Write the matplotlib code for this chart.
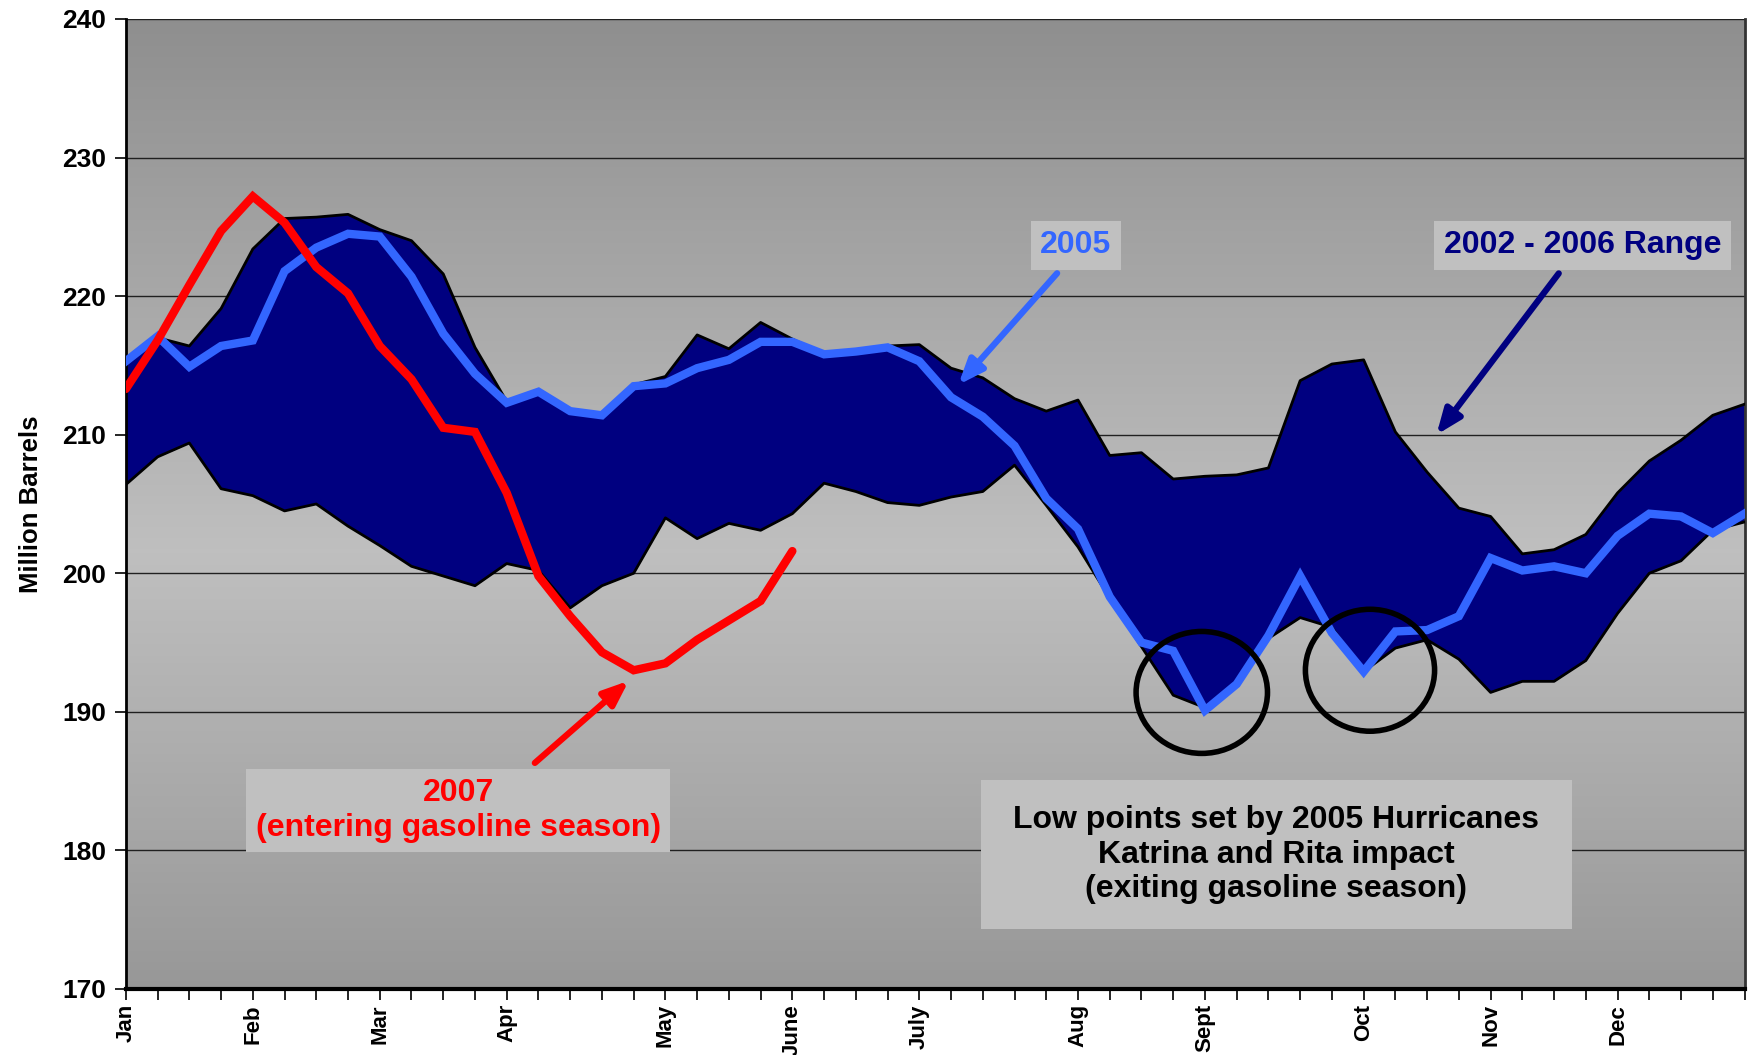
import matplotlib
matplotlib.use('Agg')
import matplotlib.pyplot as plt
import numpy as np
from matplotlib.patches import Ellipse, Rectangle

plt.rcParams['font.family'] = ['Liberation Sans', 'DejaVu Sans']
plt.rcParams['font.weight'] = 'bold'

# weekly gasoline stocks, million barrels (week 0 = start of Jan)
weeks = np.arange(52)
range_high = [215.3, 217.0, 216.4, 219.1, 223.4, 225.6, 225.7, 225.9, 224.8, 224.0,
              221.6, 216.3, 212.4, 213.1, 211.7, 211.4, 213.6, 214.2, 217.2, 216.2,
              218.1, 216.9, 215.8, 216.1, 216.4, 216.5, 214.8, 214.1, 212.6, 211.7,
              212.5, 208.5, 208.7, 206.8, 207.0, 207.1, 207.6, 213.9, 215.1, 215.4,
              210.2, 207.3, 204.7, 204.1, 201.4, 201.7, 202.8, 205.8, 208.1, 209.6,
              211.4, 212.2]
range_low = [206.4, 208.4, 209.4, 206.1, 205.6, 204.5, 205.0, 203.4, 202.0, 200.5,
             199.8, 199.1, 200.7, 200.2, 197.5, 199.1, 200.0, 204.0, 202.5, 203.6,
             203.1, 204.3, 206.5, 205.9, 205.1, 204.9, 205.5, 205.9, 207.8, 204.9,
             201.9, 198.2, 194.7, 191.2, 190.3, 191.9, 195.3, 196.8, 196.1, 192.9,
             194.6, 195.2, 193.8, 191.4, 192.2, 192.2, 193.7, 197.1, 200.0, 200.9,
             203.1, 203.7]
stocks_2005 = [215.3, 217.1, 214.9, 216.4, 216.8, 221.8, 223.5, 224.5, 224.3, 221.4,
               217.3, 214.4, 212.3, 213.1, 211.7, 211.4, 213.5, 213.7, 214.8, 215.4,
               216.7, 216.7, 215.8, 216.0, 216.3, 215.3, 212.7, 211.3, 209.2, 205.4,
               203.2, 198.3, 195.0, 194.4, 190.1, 192.0, 195.5, 199.8, 195.7, 192.9,
               195.8, 195.9, 196.9, 201.1, 200.2, 200.5, 200.0, 202.7, 204.3, 204.1,
               202.9, 204.3]
stocks_2007 = [213.3, 216.8, 220.8, 224.7, 227.2, 225.3, 222.1, 220.2, 216.4, 214.0,
               210.5, 210.2, 205.8, 199.8, 196.9, 194.3, 193.0, 193.5, 195.2, 196.6,
               198.0, 201.6]

month_weeks = [0, 4, 8, 12, 17, 21, 25, 30, 34, 39, 43, 47]
month_names = ['Jan', 'Feb', 'Mar', 'Apr', 'May', 'June', 'July', 'Aug', 'Sept',
               'Oct', 'Nov', 'Dec']

NAVY = '#000080'
BLUE = '#3366FF'
RED = '#FF0000'
BOX = '#C0C0C0'
HEAD = '-|>,head_length=1.5,head_width=0.6'


def main():
    fig = plt.figure(figsize=(17.48, 10.55), dpi=100)
    ax = fig.add_axes([0.072, 0.0626, 0.926, 0.9194])

    # gray gradient background, lighter in the middle
    t = np.linspace(0, 1, 256)
    shade = 0.56 + 0.19 * np.clip(1 - np.abs(t - 0.45) / 0.55, 0, 1)
    grad = np.stack([shade, shade, shade], axis=-1)[:, None, :].repeat(2, axis=1)
    ax.imshow(grad, extent=[0, 51, 170, 240], aspect='auto', origin='lower', zorder=0)

    ax.set_xlim(0, 51)
    ax.set_ylim(170, 240)

    for v in range(180, 241, 10):
        ax.axhline(v, color='#202020', lw=1.0, zorder=1)

    ax.fill_between(weeks, range_low, range_high, color=NAVY, lw=0, zorder=2)
    ax.plot(weeks, range_high, color='black', lw=2.0, zorder=3)
    ax.plot(weeks, range_low, color='black', lw=2.0, zorder=3)
    ax.plot(weeks, stocks_2005, color=BLUE, lw=6, zorder=4, solid_joinstyle='miter')
    ax.plot(weeks[:len(stocks_2007)], stocks_2007, color=RED, lw=6, zorder=5,
            solid_joinstyle='miter', solid_capstyle='round')

    # ticks
    ax.set_yticks(range(170, 241, 10))
    ax.tick_params(axis='y', labelsize=19, length=8, width=1.2, pad=6)
    labels = [''] * 52
    for w, m in zip(month_weeks, month_names):
        labels[w] = m
    ax.set_xticks(weeks)
    ax.set_xticklabels(labels, rotation=90, fontsize=16, fontweight='bold')
    ax.tick_params(axis='x', length=8, width=1.2, pad=3)
    for lab in ax.get_yticklabels():
        lab.set_fontweight('bold')
    ax.set_ylabel('Million Barrels', fontsize=18.5, fontweight='bold', labelpad=14)

    ax.spines['top'].set_visible(False)
    ax.spines['left'].set_linewidth(2)
    ax.spines['bottom'].set_linewidth(3)
    ax.spines['right'].set_linewidth(2)
    ax.spines['right'].set_color('#333333')

    # annotations
    ax.annotate('', xy=(26.17, 213.45), xytext=(29.4, 221.8),
                arrowprops=dict(arrowstyle=HEAD, color=BLUE, lw=4.5), zorder=6)
    ax.text(29.93, 223.67, '2005', color=BLUE, fontsize=23, fontweight='bold',
            ha='center', va='center', zorder=7,
            bbox=dict(boxstyle='square,pad=0.3', fc=BOX, ec='none'))

    ax.annotate('', xy=(41.24, 209.83), xytext=(45.2, 221.8),
                arrowprops=dict(arrowstyle=HEAD, color=NAVY, lw=4.5), zorder=6)
    ax.text(45.9, 223.67, '2002 - 2006 Range', color=NAVY, fontsize=23,
            fontweight='bold', ha='center', va='center', zorder=7,
            bbox=dict(boxstyle='square,pad=0.3', fc=BOX, ec='none'))

    ax.annotate('', xy=(15.91, 192.37), xytext=(12.82, 186.18),
                arrowprops=dict(arrowstyle=HEAD, color=RED, lw=4.5), zorder=6)
    ax.text(10.47, 182.88, '2007\n(entering gasoline season)', color=RED,
            fontsize=23, fontweight='bold', ha='center', va='center', zorder=7,
            linespacing=1.2,
            bbox=dict(boxstyle='square,pad=0.3', fc=BOX, ec='none'))

    ax.add_patch(Rectangle((26.94, 174.35), 18.62, 10.7, fc=BOX, ec='none', zorder=6))
    ax.text(36.25, 179.7,
            'Low points set by 2005 Hurricanes\nKatrina and Rita impact\n(exiting gasoline season)',
            color='black', fontsize=23, fontweight='bold', ha='center', va='center',
            zorder=7, linespacing=1.2)

    for cx, cy, w, h in [(33.9, 191.4, 4.14, 8.8), (39.2, 193.0, 4.07, 8.8)]:
        ax.add_patch(Ellipse((cx, cy), w, h, fill=False, ec='black', lw=4, zorder=8))

    fig.savefig('out.png', dpi=100)


if __name__ == '__main__':
    main()
